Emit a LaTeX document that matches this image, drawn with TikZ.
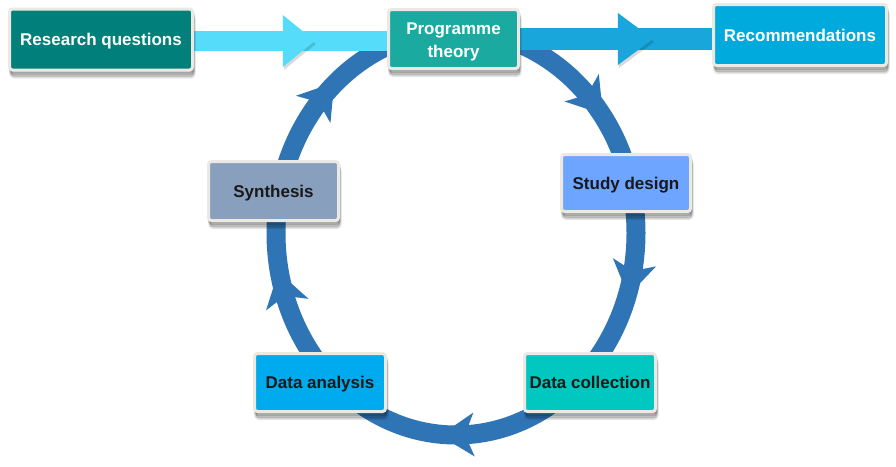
\documentclass[tikz,border=0pt]{standalone}
\usepackage{fontspec}
\setmainfont{Liberation Sans}
\usetikzlibrary{calc}
\pgfdeclarelayer{bg}
\pgfdeclarelayer{mid}
\pgfsetlayers{bg,mid,main}
\definecolor{rqcol}{HTML}{007F7B}
\definecolor{ptcol}{HTML}{1AAAA0}
\definecolor{reccol}{HTML}{00AADC}
\definecolor{sdcol}{HTML}{6EA5FF}
\definecolor{syncol}{HTML}{88A0BE}
\definecolor{dacol}{HTML}{00AAEE}
\definecolor{dccol}{HTML}{00C8C0}
\definecolor{arrowA}{HTML}{55DCFB}
\definecolor{arrowB}{HTML}{19A6DA}
\definecolor{ringblue}{HTML}{2F75B5}
\definecolor{boxedge}{HTML}{ECE8E4}
\begin{document}
\begin{tikzpicture}[x=1pt,y=1pt,
  softshadow/.style={
    preaction={draw=black, fill=black, opacity=0.10, transform canvas={xshift=1pt,yshift=-3pt}},
    preaction={draw=black, fill=black, opacity=0.10, transform canvas={xshift=1pt,yshift=-5pt}},
    preaction={draw=black, fill=black, opacity=0.10, transform canvas={xshift=1.5pt,yshift=-7pt}}},
  stage/.style={rectangle, rounded corners=3pt, draw=boxedge, line width=3pt,
    inner sep=0pt, font=\bfseries\fontsize{17}{23}\selectfont, softshadow,
    text height=14pt, text depth=1.8pt},
  light/.style={text=white},
  dark/.style={text=black!90},
  headshadow/.style={preaction={fill=black, opacity=0.15, transform canvas={xshift=1pt,yshift=-3pt}}}
]
\useasboundingbox (0,0) rectangle (896,-466);
\begin{pgfonlayer}{bg}
\fill[white] (0,0) rectangle (896,-466);
\end{pgfonlayer}

% boxes
\node[stage, light, fill=rqcol, minimum width=183pt, minimum height=61pt] (rq) at (101,-39.5) {Research questions};
\node[stage, light, fill=ptcol, minimum width=130pt, minimum height=59pt, text height=0pt, text depth=0pt] (pt) at (453.5,-39)
  {\raisebox{-7pt}[0pt][0pt]{\begin{tabular}{@{}c@{}}Programme\\theory\end{tabular}}};
\node[stage, light, fill=reccol, minimum width=173pt, minimum height=61pt] (rec) at (800,-35) {Recommendations};
\node[stage, dark, fill=sdcol, minimum width=129pt, minimum height=57pt] (sd) at (626,-183) {Study design};
\node[stage, dark, fill=syncol, minimum width=130pt, minimum height=59pt] (syn) at (273.5,-191) {Synthesis};
\node[stage, dark, fill=dacol, minimum width=131pt, minimum height=58pt] (da) at (320,-382.5) {Data analysis};
\node[stage, dark, fill=dccol, minimum width=131pt, minimum height=58pt] (dc) at (590,-382.5) {Data collection};

% ring
\begin{pgfonlayer}{bg}
\coordinate (c) at (456,-233);
\draw[ringblue, line width=19pt] (c) ellipse [x radius=180, y radius=202];
\foreach \t in {138.5,42,-12,-88.4,197}{
  \pgfmathsetmacro\rot{atan2(-202*cos(\t),180*sin(\t))}
  \path (c) ++(\t:180 and 202) coordinate (h);
  \fill[ringblue, shift={(h)}, rotate=\rot] (21,0) -- (-13,22) -- (-4,0) -- (-13,-22) -- cycle;
}
\end{pgfonlayer}

% straight arrows
\begin{pgfonlayer}{mid}
\coordinate (a1) at ($(rq.east)+(0,-1.5)$);
\coordinate (a1e) at (a1 -| pt.west);
\draw[arrowA, line width=20pt] (a1) -- (a1e);
\coordinate (h1) at ($(a1)!0.46!(a1e)$);
\fill[arrowA, headshadow] ($(h1)+(0,26)$) -- ($(h1)+(32,0)$) -- ($(h1)+(0,-26)$) -- cycle;

\coordinate (a2) at (pt.east);
\coordinate (a2e) at (a2 -| rec.west);
\draw[arrowB, line width=22pt] (a2) -- (a2e);
\coordinate (h2) at ($(a2)!0.51!(a2e)$);
\fill[arrowB, headshadow] ($(h2)+(0,26)$) -- ($(h2)+(35,0)$) -- ($(h2)+(0,-26)$) -- cycle;
\end{pgfonlayer}
\end{tikzpicture}
\end{document}
